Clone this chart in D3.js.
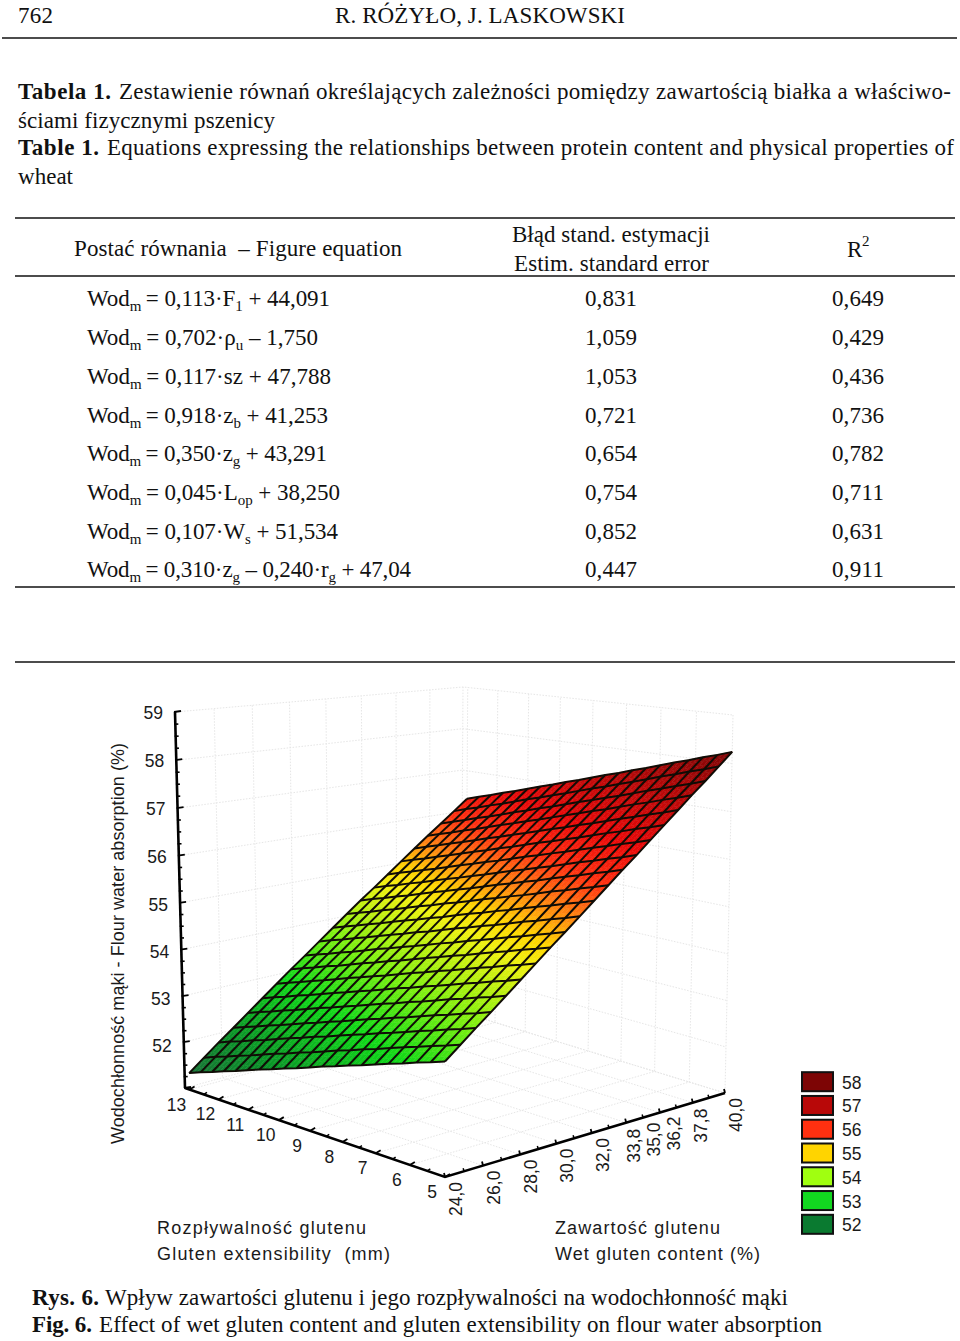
<!DOCTYPE html>
<html><head><meta charset="utf-8">
<style>html,body{margin:0;padding:0;background:#fff}svg{display:block}</style>
<script src="https://cdn.jsdelivr.net/npm/d3@7"></script>
</head><body><svg id="c" width="960" height="1341"></svg>
<script>
// ---------- chart data ----------
const glutenGrid = [24,24.8,25.6,26.4,27.2,28,28.8,29.6,30.4,31.2,32,32.8,33.6,34.4,35.2,36,36.8,37.6,38.4,39.2,40];
const extGrid = [13,12.6,12.2,11.8,11.4,11,10.6,10.2,9.8,9.4,9,8.6,8.2,7.8,7.4,7,6.6,6.2,5.8,5.4,5];
const absorption = [
[51.36,51.46,51.55,51.65,51.74,51.84,51.94,52.03,52.13,52.22,52.32,52.42,52.51,52.61,52.70,52.80,52.90,52.99,53.09,53.18,53.28],
[51.61,51.71,51.80,51.90,51.99,52.09,52.19,52.28,52.38,52.47,52.57,52.67,52.76,52.86,52.95,53.05,53.15,53.24,53.34,53.43,53.53],
[51.86,51.96,52.05,52.15,52.24,52.34,52.44,52.53,52.63,52.72,52.82,52.92,53.01,53.11,53.20,53.30,53.40,53.49,53.59,53.68,53.78],
[52.10,52.20,52.29,52.39,52.48,52.58,52.68,52.77,52.87,52.96,53.06,53.16,53.25,53.35,53.44,53.54,53.64,53.73,53.83,53.92,54.02],
[52.35,52.45,52.54,52.64,52.73,52.83,52.93,53.02,53.12,53.21,53.31,53.41,53.50,53.60,53.69,53.79,53.89,53.98,54.08,54.17,54.27],
[52.60,52.70,52.79,52.89,52.98,53.08,53.18,53.27,53.37,53.46,53.56,53.66,53.75,53.85,53.94,54.04,54.14,54.23,54.33,54.42,54.52],
[52.85,52.95,53.04,53.14,53.23,53.33,53.43,53.52,53.62,53.71,53.81,53.91,54.00,54.10,54.19,54.29,54.39,54.48,54.58,54.67,54.77],
[53.10,53.20,53.29,53.39,53.48,53.58,53.68,53.77,53.87,53.96,54.06,54.16,54.25,54.35,54.44,54.54,54.64,54.73,54.83,54.92,55.02],
[53.34,53.44,53.53,53.63,53.72,53.82,53.92,54.01,54.11,54.20,54.30,54.40,54.49,54.59,54.68,54.78,54.88,54.97,55.07,55.16,55.26],
[53.59,53.69,53.78,53.88,53.97,54.07,54.17,54.26,54.36,54.45,54.55,54.65,54.74,54.84,54.93,55.03,55.13,55.22,55.32,55.41,55.51],
[53.84,53.94,54.03,54.13,54.22,54.32,54.42,54.51,54.61,54.70,54.80,54.90,54.99,55.09,55.18,55.28,55.38,55.47,55.57,55.66,55.76],
[54.09,54.19,54.28,54.38,54.47,54.57,54.67,54.76,54.86,54.95,55.05,55.15,55.24,55.34,55.43,55.53,55.63,55.72,55.82,55.91,56.01],
[54.34,54.44,54.53,54.63,54.72,54.82,54.92,55.01,55.11,55.20,55.30,55.40,55.49,55.59,55.68,55.78,55.88,55.97,56.07,56.16,56.26],
[54.58,54.68,54.77,54.87,54.96,55.06,55.16,55.25,55.35,55.44,55.54,55.64,55.73,55.83,55.92,56.02,56.12,56.21,56.31,56.40,56.50],
[54.83,54.93,55.02,55.12,55.21,55.31,55.41,55.50,55.60,55.69,55.79,55.89,55.98,56.08,56.17,56.27,56.37,56.46,56.56,56.65,56.75],
[55.08,55.18,55.27,55.37,55.46,55.56,55.66,55.75,55.85,55.94,56.04,56.14,56.23,56.33,56.42,56.52,56.62,56.71,56.81,56.90,57.00],
[55.33,55.43,55.52,55.62,55.71,55.81,55.91,56.00,56.10,56.19,56.29,56.39,56.48,56.58,56.67,56.77,56.87,56.96,57.06,57.15,57.25],
[55.58,55.68,55.77,55.87,55.96,56.06,56.16,56.25,56.35,56.44,56.54,56.64,56.73,56.83,56.92,57.02,57.12,57.21,57.31,57.40,57.50],
[55.82,55.92,56.01,56.11,56.20,56.30,56.40,56.49,56.59,56.68,56.78,56.88,56.97,57.07,57.16,57.26,57.36,57.45,57.55,57.64,57.74],
[56.07,56.17,56.26,56.36,56.45,56.55,56.65,56.74,56.84,56.93,57.03,57.13,57.22,57.32,57.41,57.51,57.61,57.70,57.80,57.89,57.99],
[56.32,56.42,56.51,56.61,56.70,56.80,56.90,56.99,57.09,57.18,57.28,57.38,57.47,57.57,57.66,57.76,57.86,57.95,58.05,58.14,58.24]];
const zTicks = [51,52,53,54,55,56,57,58,59];
const zLabels = [52,53,54,55,56,57,58,59];
const zMinor = [51.25,51.5,51.75,52.25,52.5,52.75,53.25,53.5,53.75,54.25,54.5,54.75,55.25,55.5,55.75,56.25,56.5,56.75,57.25,57.5,57.75,58.25,58.5,58.75];
const extTicks = [5,6,7,8,9,10,11,12,13];
const extMinor = [5.5,6.5,7.5,8.5,9.5,10.5,11.5,12.5];
const glutenTicks = [24,26,28,30,32,34,36,38,40];
const glutenMinor = [25,27,29,31,33,35,37,39];
const glutenLabels = [24,26,28,30,32,33.8,35,36.2,37.8,40];
const legendValues = [58,57,56,55,54,53,52];
const legendColors = ["#7d0505","#b80808","#ff3010","#ffd400","#a0ff10","#12d820","#0a7a30"];
const colorStops = [51.3,52,53,53.8,54.7,55,55.5,56,56.6,57.3,58.3];
const colorRange = ["#1a7038","#0a9028","#10d818","#80f010","#f0f010","#ffd800","#ff8010","#ff3010","#e80808","#c00808","#7a0505"];

// ---------- table data ----------
const headerLeft = "762", headerCenter = "R. RÓŻYŁO, J. LASKOWSKI";
const equations = [
 [["Wod"],["m","s"],["\u2009= 0,113·F"],["1","s"],[" + 44,091"]],
 [["Wod"],["m","s"],["\u2009= 0,702·ρ"],["u","s"],[" – 1,750"]],
 [["Wod"],["m","s"],["\u2009= 0,117·sz + 47,788"]],
 [["Wod"],["m","s"],["\u2009= 0,918·z"],["b","s"],[" + 41,253"]],
 [["Wod"],["m","s"],["\u2009= 0,350·z"],["g","s"],[" + 43,291"]],
 [["Wod"],["m","s"],["\u2009= 0,045·L"],["op","s"],[" + 38,250"]],
 [["Wod"],["m","s"],["\u2009= 0,107·W"],["s","s"],[" + 51,534"]],
 [["Wod"],["m","s"],["\u2009= 0,310·z"],["g","s"],[" – 0,240·r"],["g","s"],[" + 47,04"]]];
const eqWidths = [243,231,244,241,240,253,251,324];
const stdError = ["0,831","1,059","1,053","0,721","0,654","0,754","0,852","0,447"];
const rSquared = ["0,649","0,429","0,436","0,736","0,782","0,711","0,631","0,911"];
const rowBaselines = [306,345,384,423,461,500,539,577];

const serif = "'Liberation Serif','Times New Roman',serif";
const sans = "'Liberation Sans',Arial,sans-serif";
const svg = d3.select("#c");

function txt(g, s, x, y, o={}) {
  const t = g.append("text").attr("x", x).attr("y", y).text(s)
    .attr("font-family", o.family || serif).attr("font-size", o.size || 23)
    .attr("fill", o.fill || "#111");
  if (o.bold) t.attr("font-weight", "bold");
  if (o.anchor) t.attr("text-anchor", o.anchor);
  if (o.width) t.attr("textLength", o.width).attr("lengthAdjust", "spacing");
  if (o.rotate != null) t.attr("transform", `rotate(${o.rotate} ${x} ${y})`);
  return t;
}
function rule(y, x0, x1, w=1.6) {
  svg.append("line").attr("x1", x0).attr("x2", x1).attr("y1", y).attr("y2", y)
    .attr("stroke", "#111").attr("stroke-width", w);
}

// ---------- page text ----------
txt(svg, headerLeft, 18, 23, {width:35});
txt(svg, headerCenter, 335, 23, {width:290});
rule(38, 2, 957);
txt(svg, "Tabela 1.", 18, 99, {bold:true, width:93});
txt(svg, "Zestawienie równań określających zależności pomiędzy zawartością białka a właściwo-", 119, 99, {width:832});
txt(svg, "ściami fizycznymi pszenicy", 18, 128, {width:257});
txt(svg, "Table 1.", 18, 155, {bold:true, width:81});
txt(svg, "Equations expressing the relationships between protein content and physical properties of", 107, 155, {width:847});
txt(svg, "wheat", 18, 184, {width:55});
rule(218, 15, 955); rule(276, 15, 955); rule(587, 15, 955); rule(662, 15, 955);
txt(svg, "Postać równania  – Figure equation", 74, 256, {width:328}).attr("xml:space","preserve").style("white-space","pre");
txt(svg, "Błąd stand. estymacji", 512, 242, {width:198});
txt(svg, "Estim. standard error", 514, 271, {width:195});
txt(svg, "R", 847, 257);
txt(svg, "2", 862, 246, {size:15});
equations.forEach((parts, i) => {
  const t = svg.append("text").attr("x", 87).attr("y", rowBaselines[i])
    .attr("font-family", serif).attr("font-size", 23).attr("fill", "#111")
    .style("white-space", "pre")
    .attr("textLength", eqWidths[i]).attr("lengthAdjust", "spacing");
  parts.forEach(p => {
    const sub = p[1] === "s";
    const ts = t.append("tspan").text(p[0]);
    if (sub) ts.attr("font-size", 15).attr("dy", 5);
    else if (t.selectAll("tspan").size() > 1) ts.attr("dy", -5);
  });
  txt(svg, stdError[i], 585, rowBaselines[i], {width:52});
  txt(svg, rSquared[i], 832, rowBaselines[i], {width:52});
});
txt(svg, "Rys. 6.", 32, 1305, {bold:true, width:67});
txt(svg, "Wpływ zawartości glutenu i jego rozpływalności na wodochłonność mąki", 105, 1305, {width:683});
txt(svg, "Fig. 6.", 32, 1332, {bold:true, width:60});
txt(svg, "Effect of wet gluten content and gluten extensibility on flour water absorption", 99, 1332, {width:723});

// ---------- 3-D projection ----------
const gU = d3.scaleLinear().domain([24,40]).range([0,1]);
const eV = d3.scaleLinear().domain([5,13.16]).range([0,1]);
const zT = d3.scaleLinear().domain([59,51]).range([0,1]);
const warp = (a,k) => k*a/(1+(k-1)*a);
// box corners: [bottom, top]
const F = [[445,1177],[445,763]], R = [[725,1093],[733,715]],
      L = [[185,1088],[175,712]], B = [[461,1012],[463,687]];
const mix = (a,b,t)=>[a[0]+(b[0]-a[0])*t, a[1]+(b[1]-a[1])*t];
function project(g,e,z){
  const u = warp(gU(g),1.1), v = warp(eV(e),1.12), t = warp(zT(z),1.03), w = 1-t;
  const p = i => mix(mix(F[i],R[i],u), mix(L[i],B[i],u), v);
  return mix(p(0),p(1),w);
}
const line = d3.line();
const segLine = (pts, st) => svg.append("path").attr("d", line(pts)).attr("fill","none").attr("stroke",st.c).attr("stroke-width",st.w).attr("stroke-dasharray",st.d||null);

// walls and floor grid
const gridSt = {c:"#e6e6e6", w:1, d:"1.5 1.5"};
const zMin=51, zMax=59, gMax=40, gMin=24, eMin=5, eMax=13.16;
zTicks.forEach(z=>{
  segLine([project(gMin,eMax,z),project(gMax,eMax,z),project(gMax,eMin,z)], gridSt);
});
extTicks.forEach(e=>{
  segLine([project(gMin,e,zMin),project(gMax,e,zMin),project(gMax,e,zMax)], gridSt);
});
glutenTicks.forEach(g=>{
  segLine([project(g,eMin,zMin),project(g,eMax,zMin),project(g,eMax,zMax)], gridSt);
});

// surface
const color = d3.scaleLinear().domain(colorStops).range(colorRange).clamp(true);
const SUB = 3, surf = svg.append("g");
const lerp = d3.interpolateNumber;
for(let i=0;i<glutenGrid.length-1;i++) for(let j=0;j<extGrid.length-1;j++){
  for(let a=0;a<SUB;a++) for(let b=0;b<SUB;b++){
    const node=(s,r)=>{
      const g=lerp(glutenGrid[i],glutenGrid[i+1])(s/SUB), e=lerp(extGrid[j],extGrid[j+1])(r/SUB);
      const z=lerp(lerp(absorption[i][j],absorption[i+1][j])(s/SUB), lerp(absorption[i][j+1],absorption[i+1][j+1])(s/SUB))(r/SUB);
      return {p:project(g,e,z),z};
    };
    const q=[node(a,b),node(a+1,b),node(a+1,b+1),node(a,b+1)];
    const c=color(d3.mean(q,d=>d.z));
    surf.append("path").attr("d",line(q.map(d=>d.p))+"Z").attr("fill",c).attr("stroke",c).attr("stroke-width",0.5);
  }
}
const meshSt={c:"#100c06",w:2};
glutenGrid.forEach((g,i)=>segLine(extGrid.map((e,j)=>project(g,e,absorption[i][j])),meshSt));
extGrid.forEach((e,j)=>segLine(glutenGrid.map((g,i)=>project(g,e,absorption[i][j])),meshSt));

// axes
const axisSt={c:"#000",w:2.6};
segLine([project(gMin,eMax,zMin),project(gMin,eMax,zMax)],axisSt);
segLine([project(gMin,eMax,zMin),project(gMin,eMin,zMin),project(gMax,eMin,zMin)],axisSt);
const tickSt=w=>({c:"#000",w});
const off=(p,dx,dy)=>[p[0]+dx,p[1]+dy];
zTicks.forEach(z=>{const p=project(gMin,eMax,z); segLine([off(p,-1,0),off(p,6,-1)],tickSt(1.8));});
zMinor.forEach(z=>{const p=project(gMin,eMax,z); segLine([off(p,-1,0),off(p,3,0)],tickSt(1.6));});
extTicks.forEach(e=>{const p=project(gMin,e,zMin); segLine([p,off(p,5,-3)],tickSt(1.8));});
extMinor.forEach(e=>{const p=project(gMin,e,zMin); segLine([p,off(p,3,-2)],tickSt(1.5));});
glutenTicks.forEach(g=>{const p=project(g,eMin,zMin); segLine([p,off(p,-1,-4)],tickSt(1.8));});
glutenMinor.forEach(g=>{const p=project(g,eMin,zMin); segLine([p,off(p,-1,-3)],tickSt(1.5));});

// tick labels
const tickFont={family:sans,size:17.5,fill:"#1a1a1a"};
zLabels.forEach(z=>{const p=project(gMin,eMax,z);
  txt(svg,String(z),p[0]-12,p[1]+6.5+(59-z)*0.4,{...tickFont,anchor:"end"});});
extTicks.forEach(e=>{const p=project(gMin,e,zMin);
  txt(svg,String(e),p[0]-13,p[1]+21,{...tickFont,anchor:"middle"});});
const fmt=v=>v.toFixed(1).replace(".",",");
glutenLabels.forEach(g=>{const p=project(g,eMin,zMin);
  const x=p[0]+17, y=p[1]+22;
  txt(svg,fmt(g),x,y,{...tickFont,anchor:"middle",rotate:-90});});

// axis titles
const titleFont={family:sans,size:18,fill:"#1a1a1a"};
txt(svg,"Wodochłonność mąki - Flour water absorption (%)",124,1144,{...titleFont,rotate:-90,width:401});
txt(svg,"Rozpływalność glutenu",157,1234,{...titleFont,width:209});
txt(svg,"Gluten extensibility  (mm)",157,1260,{...titleFont,width:233}).style("white-space","pre");
txt(svg,"Zawartość glutenu",555,1234,{...titleFont,width:165});
txt(svg,"Wet gluten content (%)",555,1260,{...titleFont,width:205});

// legend
const ly=d3.scaleBand().domain(legendValues).range([1071,1235]).paddingInner(0.2).paddingOuter(0.05);
legendValues.forEach((v,i)=>{
  svg.append("rect").attr("x",802).attr("y",ly(v)).attr("width",31).attr("height",ly.bandwidth())
    .attr("fill",legendColors[i]).attr("stroke","#111").attr("stroke-width",2);
  txt(svg,String(v),842,ly(v)+ly.bandwidth()/2+7,{...tickFont});
});
</script></body></html>
